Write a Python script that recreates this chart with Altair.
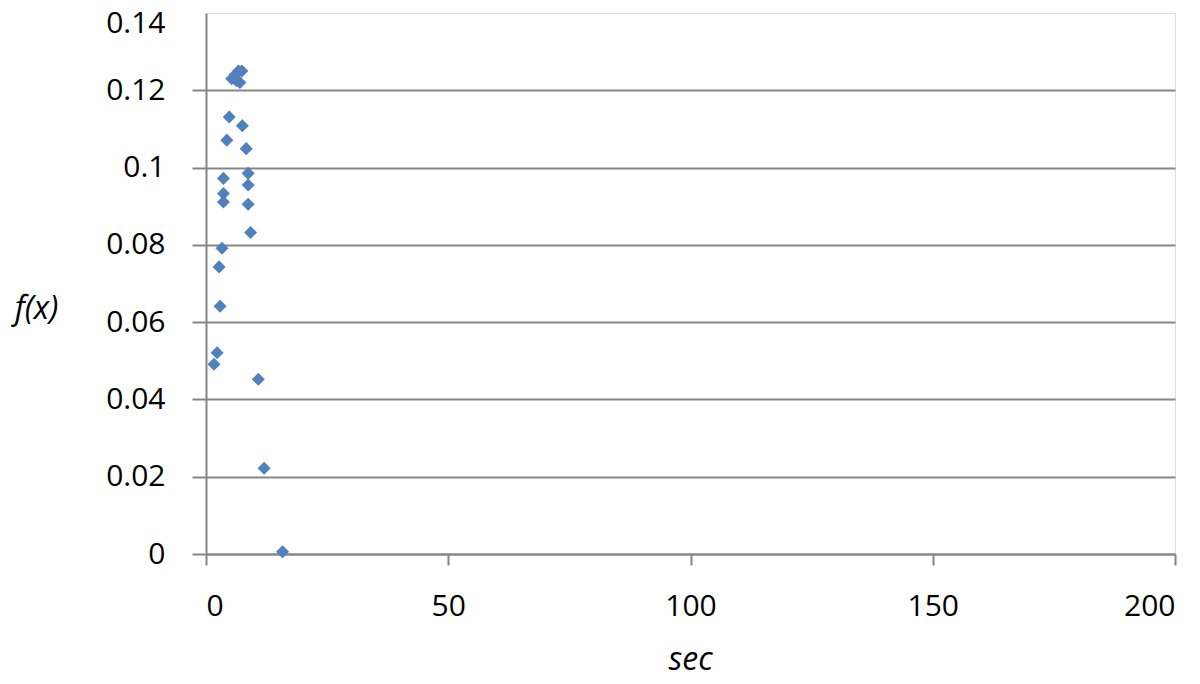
import altair as alt
import pandas as pd

sec = [1.65, 2.3, 2.9, 2.7, 3.3, 3.6, 3.6, 3.6, 4.3, 4.8, 5.3, 6.0, 6.7, 7.0, 6.3, 7.4,
       7.5, 8.3, 8.7, 8.7, 8.7, 9.2, 10.8, 12.0, 15.8]
fx = [0.0491, 0.0521, 0.0641, 0.0743, 0.0791, 0.0972, 0.0933, 0.0911, 0.1071, 0.1131,
      0.1230, 0.1240, 0.1250, 0.1220, 0.1225, 0.1250,
      0.1108, 0.1049, 0.0985, 0.0955, 0.0905, 0.0832, 0.0452, 0.0222, 0.0006]
x_ticks = [0, 50, 100, 150, 200]
y_ticks = [0, 0.02, 0.04, 0.06, 0.08, 0.1, 0.12, 0.14]

df = pd.DataFrame({"sec": sec, "fx": fx})

FONT = "Open Sans"
GRAY = "#868686"
hide_top = {"condition": {"test": "datum.value >= 0.139", "value": 0}, "value": 1}
top_offset = {"condition": {"test": "datum.value >= 0.139", "value": 10}, "value": 0}

chart = alt.Chart(df).mark_point(
    shape="diamond", filled=True, size=170, color="#4F81BD", opacity=1
).encode(
    x=alt.X("sec:Q", scale=alt.Scale(domain=[0, 200], nice=False),
            axis=alt.Axis(values=x_ticks, title="sec", grid=False,
                          domainColor=GRAY, domainWidth=2, tickColor=GRAY,
                          tickWidth=2, tickSize=11, labelPadding=26, labelFontSize=30,
                          labelFont=FONT, labelColor="#000000", titleFont=FONT,
                          titleFontSize=32, titleFontStyle="italic", titleFontWeight="normal",
                          titleColor="#000000", titleX=484, titleY=115,
                          titleBaseline="alphabetic", titleAlign="center")),
    y=alt.Y("fx:Q", scale=alt.Scale(domain=[0, 0.14], nice=False),
            axis=alt.Axis(values=y_ticks,
                          labelExpr="datum.value == 0 ? '0' : format(datum.value, '.2~f')",
                          title="f(x)", grid=True, gridColor=GRAY, gridWidth=2,
                          gridOpacity=hide_top, tickOpacity=hide_top, labelOffset=top_offset,
                          domainColor=GRAY, domainWidth=2, tickColor=GRAY,
                          tickWidth=2, tickSize=14, labelPadding=27, labelFontSize=30,
                          labelFont=FONT, labelColor="#000000", titleFont=FONT,
                          titleFontSize=32, titleFontStyle="italic", titleFontWeight="normal",
                          titleColor="#000000", titleAngle=0, titleX=-170, titleY=295,
                          titleAlign="center", titleBaseline="middle")),
).properties(
    width=969, height=541,
    autosize=alt.AutoSizeParams(type="none"),
    padding={"left": 198, "top": 5, "right": 15, "bottom": 122},
).configure_view(stroke=None).configure(background="#ffffff")

chart.save("out.html", embed_options={"renderer": "svg", "actions": False})
